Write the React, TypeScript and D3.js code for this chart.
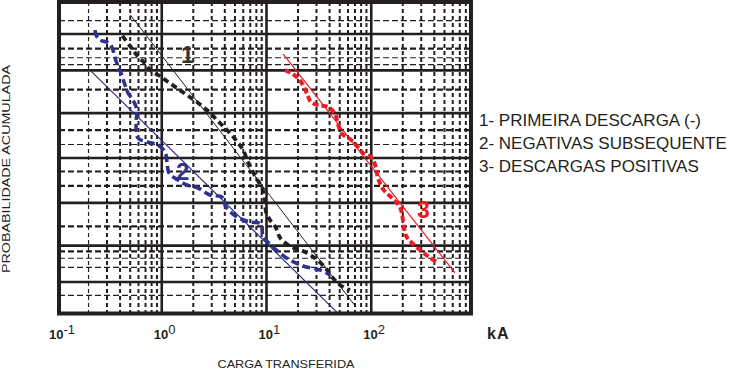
import { useMemo } from 'react';
import * as d3 from 'd3';

// cumulative probability (normal paper) vs transferred charge, log x

const WIDTH = 735;
const HEIGHT = 371;
const FRAME = { left: 59, right: 471, top: 2, bottom: 313.5 };
const INK = '#231f20';
const BLUE = '#2e3192';
const RED = '#ed1c24';
const FONT = '"Liberation Sans", Arial, sans-serif';

// [kA, %]
const primeiraDescarga = [
    [0.42, 98.9], [0.5, 98.2], [0.58, 97.3], [0.68, 96.3], [0.79, 94.9], [0.96, 93.8], [1.15, 92.3],
    [1.4, 90.5], [1.74, 88.1], [2.17, 85.3], [2.7, 81.6], [3.37, 76.2], [4.2, 70.0], [5.1, 63.2],
    [5.97, 56.0], [6.66, 47.0], [7.77, 36.8], [9.06, 28.7], [9.67, 21.5], [9.89, 15.6], [10.8, 12.2],
    [12.3, 9.5], [13.5, 6.7], [16.8, 4.9], [22.3, 4.05], [29, 3.0], [36.2, 2.0], [42.2, 1.28],
    [50.3, 0.86], [62.7, 0.66],
];
const negativasSubsequentes = [
    [0.231, 99.18], [0.236, 98.95], [0.257, 98.66], [0.314, 98.45], [0.342, 97.86], [0.358, 96.97],
    [0.382, 95.78], [0.408, 94.46], [0.446, 91.46], [0.476, 88.87], [0.531, 86.2], [0.58, 81.6],
    [0.568, 74.4], [0.593, 64.6], [0.723, 61.8], [0.921, 59.6], [1.074, 54.5], [1.122, 47.0],
    [1.173, 38.9], [1.429, 34.0], [1.742, 30.6], [2.22, 28.7], [2.89, 24.4], [3.76, 23.2],
    [4.11, 17.9], [5.23, 13.4], [6.96, 11.5], [8.86, 10.8], [9.26, 7.2], [11.3, 4.9], [15.7, 3.0],
    [22.3, 2.14], [32.4, 1.78], [40.4, 1.41],
];
const descargasPositivas = [
    [15.0, 95.06], [17.9, 94.25], [21.4, 92.3], [24.4, 88.5], [26.6, 85.3], [31.0, 84.0], [38.7, 83.1],
    [45.1, 79.6], [48.1, 73.8], [52.6, 67.4], [62.7, 63.9], [73.1, 58.9], [83.4, 53.7], [101.7, 50.0],
    [111, 42.6], [116, 35.4], [129.5, 28.0], [157.8, 22.6], [188, 17.9], [201, 12.2], [215, 7.2],
    [245, 5.54], [292, 4.22], [356, 3.16], [424, 2.55],
];

// fitted log-normal lines
const ajuste1 = [[0.5, 99.64], [71.5, 0.26]];
const ajuste2 = [[0.21, 94.9], [49, 0.17]];
const ajuste3 = [[14.4, 97.45], [630, 1.55]];

const legendItems = ['1- PRIMEIRA DESCARGA (-)', '2- NEGATIVAS SUBSEQUENTE', '3- DESCARGAS POSITIVAS'];

const tickValues = [0.1, 1, 10, 100];
const tickExponents = ['-1', '0', '1', '2'];
const decadeLines = [1, 10, 100];
const minorMultipliers = [2, 3, 4, 5, 6, 7, 8, 9];

const probMajor = [1, 5, 20, 50, 80, 95, 99];
const probMinorThick = [4, 10, 30, 40, 70, 90, 98];
const probMinorThin = [0.5, 2, 3, 60, 96, 97, 99.5];

// Acklam's inverse normal
function probit(p: number) {
    const a = [-39.69683028665376, 220.9460984245205, -275.9285104469687, 138.357751867269, -30.66479806614716, 2.506628277459239];
    const b = [-54.47609879822406, 161.5858368580409, -155.6989798598866, 66.80131188771972, -13.28068155288572];
    const c = [-0.007784894002430293, -0.3223964580411365, -2.400758277161838, -2.549732539343734, 4.374664141464968, 2.938163982698783];
    const d = [0.007784695709041462, 0.3224671290700398, 2.445134137142996, 3.754408661907416];
    const pl = 0.02425;
    if (p < pl) {
        const q = Math.sqrt(-2 * Math.log(p));
        return (((((c[0] * q + c[1]) * q + c[2]) * q + c[3]) * q + c[4]) * q + c[5]) / ((((d[0] * q + d[1]) * q + d[2]) * q + d[3]) * q + 1);
    }
    if (p > 1 - pl) {
        const q = Math.sqrt(-2 * Math.log(1 - p));
        return -(((((c[0] * q + c[1]) * q + c[2]) * q + c[3]) * q + c[4]) * q + c[5]) / ((((d[0] * q + d[1]) * q + d[2]) * q + d[3]) * q + 1);
    }
    const q = p - 0.5;
    const r = q * q;
    return ((((((a[0] * r + a[1]) * r + a[2]) * r + a[3]) * r + a[4]) * r + a[5]) * q) / (((((b[0] * r + b[1]) * r + b[2]) * r + b[3]) * r + b[4]) * r + 1);
}

export default function App() {
    const xScale = useMemo(() => d3.scaleLog().domain([0.1, 1000]).range([57, 476]), []);
    const zScale = useMemo(() => d3.scaleLinear().domain([0, 1]).range([158, 158 - 53.3]), []);
    const yScale = (pct: number) => zScale(probit(pct / 100));

    const curve = d3
        .line<number[]>()
        .x((d) => xScale(d[0]))
        .y((d) => yScale(d[1]))
        .curve(d3.curveCatmullRom.alpha(0.5));
    const straight = d3
        .line<number[]>()
        .x((d) => xScale(d[0]))
        .y((d) => yScale(d[1]));

    const minorX = tickValues.flatMap((dec) => minorMultipliers.map((m) => m * dec));

    const hLine = (p: number, w: number, dash: string | undefined, key: string) => (
        <line key={key} x1={FRAME.left} x2={FRAME.right} y1={yScale(p)} y2={yScale(p)} stroke={INK} strokeWidth={w} strokeDasharray={dash} />
    );

    return (
        <svg width={WIDTH} height={HEIGHT} style={{ position: 'absolute', left: 0, top: 0, background: '#fff' }}>
            <defs>
                <clipPath id="plot">
                    <rect x={FRAME.left} y={FRAME.top} width={FRAME.right - FRAME.left} height={FRAME.bottom - FRAME.top} />
                </clipPath>
            </defs>

            <g clipPath="url(#plot)">
                {minorX.map((v, i) => (
                    <line key={'mx' + i} x1={xScale(v)} x2={xScale(v)} y1={FRAME.top} y2={FRAME.bottom} stroke={INK} strokeWidth={i < 1 ? 1.2 : 2} strokeDasharray="4,3" />
                ))}
                {probMinorThin.map((p, i) => hLine(p, 1.2, '6,3', 'ht' + i))}
                {probMinorThick.map((p, i) => hLine(p, 2.2, '6,3', 'hk' + i))}
                {probMajor.map((p, i) => hLine(p, 2.6, undefined, 'hm' + i))}
                {decadeLines.map((v, i) => (
                    <line key={'dx' + i} x1={xScale(v)} x2={xScale(v)} y1={FRAME.top} y2={FRAME.bottom} stroke={INK} strokeWidth={2.6} />
                ))}

                {/* fitted lines */}
                <path d={straight(ajuste1) ?? ''} fill="none" stroke={INK} strokeWidth={1} />
                <path d={straight(ajuste2) ?? ''} fill="none" stroke={BLUE} strokeWidth={1.2} />
                <path d={straight(ajuste3) ?? ''} fill="none" stroke={RED} strokeWidth={1.2} />

                {/* measured curves */}
                <path d={curve(primeiraDescarga) ?? ''} fill="none" stroke={INK} strokeWidth={3.8} strokeDasharray="6,4" />
                <path d={curve(negativasSubsequentes) ?? ''} fill="none" stroke={BLUE} strokeWidth={3.6} strokeDasharray="8,4" />
                <path d={curve(descargasPositivas) ?? ''} fill="none" stroke={RED} strokeWidth={4} strokeDasharray="6,3" />
            </g>

            <rect x={FRAME.left} y={FRAME.top} width={FRAME.right - FRAME.left} height={FRAME.bottom - FRAME.top} fill="none" stroke={INK} strokeWidth={4} />

            {/* curve numbers */}
            <text x={181} y={63} fontFamily={FONT} fontWeight="bold" fontSize={23} fill="#333">1</text>
            <text x={176} y={180} fontFamily={FONT} fontWeight="bold" fontSize={24} fill={BLUE}>2</text>
            <text x={417} y={218} fontFamily={FONT} fontWeight="bold" fontSize={23} fill={RED}>3</text>

            {/* x tick labels */}
            {tickValues.map((v, i) => (
                <text key={'tl' + i} x={xScale(v) - 8} y={339} fontFamily={FONT} fontSize={13} fill={INK}>
                    <tspan fontWeight="bold">10</tspan>
                    <tspan dy={-5}>{tickExponents[i]}</tspan>
                </text>
            ))}
            <text x={487} y={339} fontFamily={FONT} fontWeight="bold" fontSize={16} letterSpacing={1} fill={INK}>kA</text>

            <text x={286} y={368} textAnchor="middle" fontFamily={FONT} fontSize={11} textLength={137} lengthAdjust="spacingAndGlyphs" fill={INK}>
                CARGA TRANSFERIDA
            </text>
            <text transform="translate(10,169) rotate(-90)" textAnchor="middle" fontFamily={FONT} fontSize={11} textLength={208} lengthAdjust="spacingAndGlyphs" fill={INK}>
                PROBABILIDADE ACUMULADA
            </text>

            {legendItems.map((t, i) => (
                <text key={'lg' + i} x={479} y={126 + i * 23} fontFamily={FONT} fontSize={17} fill={INK}>
                    {t}
                </text>
            ))}
        </svg>
    );
}
